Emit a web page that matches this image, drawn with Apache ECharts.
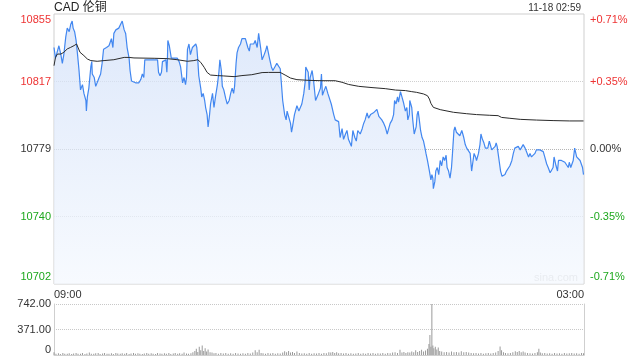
<!DOCTYPE html>
<html><head><meta charset="utf-8">
<script src="https://cdn.jsdelivr.net/npm/echarts@6/dist/echarts.min.js"></script>
<style>html,body{margin:0;padding:0;background:#fff}#c{width:640px;height:360px}</style>
</head><body><div id="c"></div>
<script>
const titleText = 'CAD 伦铜';
const dateText = '11-18 02:59';
const watermark = 'sina.com';
const timeLabels = ['09:00', '03:00'];
const prevClose = 10778.5;
const priceMin = 10702, priceMax = 10855;
const priceTicks = [10702, 10740.25, 10778.5, 10816.75, 10855];
const volTicks = [0, 371, 742];

// minutes since 09:00
const priceTimes = [
0,3,7,10,14,17,20,24,27,31, 34,37,39,42,45,48,51,54,58,61, 65,66,68,71,75,77,78,82,85,88,
92,95,98,101,103,107,112,117,120,122, 126,129,132,136,139,143,146,149,153,155,
158,160,166,173,177,180,183,185,190,197, 204,211,213,216,219,221,224,228,230,231,
232,235,238,239,245,251,255,258,262,265, 268,270,272,275,278,282,285,289,291,293,
295,299,301,304,307,309,312,314,317,319, 323,326,329,333,336,338,341,343,346,350,
353,357,360,363,
366,368,371,373,376,380,383,386,390,393, 395,398,400,403,407,410,414,417,419,421,
424,427,431,434,437,439,443,446,450,454, 458,461,463,466,470,473,475,478,482,484,
486,490,495,499,502,505,509,512,513,518, 520,522,526,529,533,536,539,543,545,547,
551,554,558,562,565,570,573,577,580,583, 587,590,594,597,600,604,606,609,613,616,
619,624,628,631,634,638,641,645,648,651, 655,658,662,665,668,672,675,679,682,685,
689,692,694,697,700,702,706,709,712,716, 719,721,724,
725,729,731,734,738,740,742,744,747,750, 753,756,758,761,763,765,768,770,772,773,
776,778,781,784,787,790,793,796,799,801, 804,807,810,812,815,817,820,824,827,831,
833,835,838,841,844,848,851,853,856,859, 861,865,868,870,873,876,879,882,884,887,
890,892,895,899,901,903,905,907,910,913, 916,919,922,926,929,933,936,939,943,946,
950,953,956,960,963,967,970,973,977,980, 983,987,990,994,997,1000,1004,1007,1011,1014,
1017,1019,1023,1026,1028,1031,1034,1038,1041,1045, 1048,1050,1053,1055,1058,1061,1063,1065,1068,1072,
1075,1077,1079];
const prices = [
10836,10830,10834,10837,10832,10827,10832,10842,10847,10845, 10849,10851,10847,10845,10840,10832,10823,10812,10815,10810, 10806,10800,10808,10813,10825,10828,10821,10819,10814,10815,
10819,10821,10827,10835,10834,10836,10837,10841,10836,10844, 10846,10846,10847,10847,10851,10846,10844,10836,10830,10823,
10817,10816,10816,10816,10818,10821,10819,10829,10829,10829, 10829,10829,10822,10820,10822,10828,10828,10829,10822,10828,
10840,10837,10836,10830,10830,10830,10828,10825,10816,10819, 10815,10819,10835,10838,10832,10836,10835,10838,10836,10829,
10820,10813,10808,10810,10806,10802,10798,10791,10798,10804, 10810,10802,10808,10815,10822,10829,10823,10814,10812,10807,
10804,10806,10810,10813,
10810,10814,10827,10833,10836,10838,10841,10842,10841,10842, 10836,10834,10838,10839,10838,10840,10836,10844,10844,10836,
10829,10831,10834,10837,10837,10830,10825,10823,10825,10827, 10828,10824,10817,10806,10798,10795,10800,10799,10793,10788,
10791,10798,10803,10800,10802,10804,10810,10817,10825,10822, 10812,10819,10823,10817,10806,10805,10810,10813,10821,10809,
10812,10814,10810,10809,10804,10798,10795,10796,10794,10785, 10790,10784,10787,10789,10784,10783,10780,10789,10785,10783,
10789,10787,10790,10793,10795,10799,10796,10798,10797,10799, 10800,10801,10797,10796,10795,10793,10791,10787,10790,10793,
10795,10798,10806,10804,10808,10805,10811,10808,10805,10800, 10802,10795,10798,
10806,10802,10795,10787,10791,10798,10800,10796,10789,10785, 10783,10779,10776,10772,10771,10766,10761,10764,10762,10756,
10760,10766,10768,10764,10772,10769,10774,10772,10775,10768, 10766,10762,10768,10776,10789,10791,10788,10789,10786,10789,
10787,10785,10781,10779,10779,10776,10766,10770,10776,10774, 10772,10776,10781,10787,10784,10782,10779,10780,10779,10783,
10782,10778,10779,10780,10782,10780,10776,10772,10766,10763, 10762,10764,10766,10767,10769,10772,10776,10779,10778,10780,
10778,10779,10781,10779,10779,10774,10776,10774,10775,10776, 10778,10778,10778,10778,10777,10774,10770,10768,10765,10764,
10768,10774,10769,10766,10772,10771,10772,10772,10771,10771, 10768,10771,10768,10768,10772,10779,10780,10774,10774,10772,
10771,10768,10764];

const avgTimes = [0,3,7,14,20,27,34,41,46,49, 53,61,68,75,88,102,122,143,153,163,
204,231,251,272,285,293,299,306,312,319, 333,346,367,383,403,424,437,461,471,482,
495,519,546,573,587,600,621,648,675,696, 716,729,739,753,761,765,768,773,787,814,
841,861,888,905,912,929,950,983,1017,1051, 1079];
const avgPrices = [10825.7,10830.4,10832.3,10832.3,10833.3,10835.2,10836.1,10837.1,10838,10837.1,
10833.3,10831.4,10829.5,10828.6,10828.2,10828.6,10829.1,10830.4,10830.4,10830.1,
10829.9,10829.7,10829.1,10828.2,10828.6,10829.1,10827.6,10824.8,10821.9,10820.4,
10820.1,10819.9,10819.5,10820.1,10820.6,10821.8,10821.9,10821.9,10820.4,10818.7,
10817.8,10817.4,10817.2,10817.2,10816.3,10815.1,10814,10813.3,10812.7,10811.9,
10811.6,10811,10810.6,10809.7,10808.7,10806.8,10804.4,10802.1,10800.8,10799.3,
10798.5,10798,10797.6,10797.4,10796.4,10795.9,10795.3,10794.9,10794.6,10794.4,
10794.4];

const volTimes = [0,4,9,13,18,22,27,31,36,40,45,49,54,58,63,67,72,76,81,85,90,94,99,103,108,112,117,121,126,130,
135,139,144,148,153,157,162,166,171,175,180,184,189,193,198,202,207,211,216,220,225,229,234,238,243,247,252,256,261,265,
270,274,279,283,287,290,293,296,299,302,305,308,311,314,318,322,326,330,335,340,345,350,355,360,365,370,375,380,385,390,
395,400,405,410,414,418,422,426,431,436,441,446,451,456,461,466,470,474,478,482,486,490,495,500,505,510,515,520,525,530,
535,540,545,550,555,560,564,568,572,576,580,585,590,595,600,605,610,615,620,625,630,635,640,645,650,655,660,665,670,675,
680,685,690,695,700,705,709,713,717,721,725,729,733,737,741,745,749,753,757,761,764,766,768,770,772,774,777,780,783,786,
790,795,800,805,810,815,820,825,830,835,840,845,850,855,860,865,870,875,880,885,890,895,900,905,909,912,916,920,925,930,
935,940,944,948,952,956,960,965,970,975,980,985,988,991,995,1000,1005,1010,1015,1020,1025,1030,1035,1040,1045,1050,1055,1060,1065,1070,
1075,1079];
const volValues = [40,20,25,15,30,20,18,25,15,22,30,18,20,28,15,22,35,20,18,25,30,15,22,28,18,20,25,15,30,22,
18,25,20,28,15,22,30,18,25,20,15,22,28,18,25,20,15,30,22,18,25,20,28,15,22,30,18,25,20,35,
22,18,25,40,60,90,45,120,70,140,60,100,50,80,40,35,25,30,20,28,22,30,18,25,20,30,22,18,25,20,
30,22,35,70,40,75,30,25,20,28,22,30,18,25,22,35,55,40,60,35,45,30,50,28,22,25,20,30,18,25,
22,28,20,30,25,40,35,45,30,40,25,30,22,28,20,25,18,22,30,20,25,18,28,22,30,20,25,22,28,20,
30,25,35,40,30,75,35,45,30,40,35,50,40,70,45,60,75,50,65,90,160,290,120,742,140,100,120,80,110,60,
50,40,45,35,50,40,45,35,55,40,45,35,30,25,30,22,28,20,25,30,22,28,35,60,125,70,40,30,25,30,
40,55,45,60,40,50,35,28,25,22,30,40,90,35,25,28,22,25,20,28,22,25,20,28,22,25,30,22,25,20,
28,25];

const RED = '#ee3333', GREEN = '#1ea81e', DARK = '#333';
function side(v){ return v > prevClose + 0.01 ? 'r' : (v < prevClose - 0.01 ? 'g' : 'k'); }
function pos(v){ return v === priceMax ? 'T' : (v === priceMin ? 'B' : ''); }
const richBase = {
  r:{color:RED,fontSize:11}, g:{color:GREEN,fontSize:11}, k:{color:DARK,fontSize:11},
  rT:{color:RED,fontSize:11,padding:[12,0,0,0]}, gB:{color:GREEN,fontSize:11,padding:[0,0,14,0]}
};

const chart = echarts.init(document.getElementById('c'), null, {renderer:'canvas'});
chart.setOption({
  animation:false,
  backgroundColor:'#fff',
  textStyle:{fontFamily:'Liberation Sans, Arial, sans-serif'},
  title:[
    {text:titleText,left:54,top:2,padding:0,textStyle:{fontSize:12,fontWeight:'normal',color:'#222',fontFamily:'Liberation Sans, Noto Sans CJK SC, sans-serif'}},
    {text:dateText,right:59,top:3,padding:0,textStyle:{fontSize:10,fontWeight:'normal',color:'#333',fontFamily:'Liberation Sans, Arial, sans-serif'}}
  ],
  graphic:[
    {type:'text',right:62,top:272,style:{text:watermark,fill:'#d0d0d0',fontSize:11,fontFamily:'Liberation Sans, Arial, sans-serif'},z:0}
  ],
  grid:[
    {left:54,top:14,width:530,height:270,show:true,borderColor:'#cfcfcf',borderWidth:1,backgroundColor:'transparent'},
    {left:54,top:304,width:530,height:51,show:false}
  ],
  xAxis:[
    {type:'value',gridIndex:0,min:0,max:1080,
     axisLine:{show:false},axisTick:{show:false},splitLine:{show:false},
     axisLabel:{customValues:[0,1080],margin:5,fontSize:11,color:'#333',
       alignMinLabel:'left',alignMaxLabel:'right',
       formatter:function(v){return v===0?timeLabels[0]:timeLabels[1];}}},
    {type:'value',gridIndex:1,min:0,max:1080,
     axisLine:{show:true,onZero:false,lineStyle:{color:'#cfcfcf'}},axisTick:{show:false},axisLabel:{show:false},splitLine:{show:false}}
  ],
  yAxis:[
    {type:'value',gridIndex:0,min:priceMin,max:priceMax,position:'left',
     axisLine:{show:false},
     axisTick:{show:false,customValues:[priceTicks[1],priceTicks[2],priceTicks[3]]},
     splitLine:{show:true,lineStyle:{color:['#d0d0d0','#b5b5b5','#d0d0d0'],type:'dotted',width:1}},
     axisLabel:{customValues:priceTicks,margin:3,
       formatter:function(v){return '{'+side(v)+pos(v)+'|'+Math.round(v)+'}';},rich:richBase}},
    {type:'value',gridIndex:0,min:priceMin,max:priceMax,position:'right',
     axisLine:{show:false},axisTick:{show:false},splitLine:{show:false},
     axisLabel:{customValues:priceTicks,margin:6,
       formatter:function(v){var p=(v-prevClose)/prevClose*100;var s=(p>0.001?'+':'')+p.toFixed(2)+'%';if(Math.abs(p)<0.001)s='0.00%';return '{'+side(v)+pos(v)+'|'+s+'}';},rich:richBase}},
    {type:'value',gridIndex:1,min:0,max:742,position:'left',
     axisLine:{show:true,lineStyle:{color:'#cfcfcf'}},
     axisTick:{show:false,customValues:[371,742]},
     splitLine:{show:true,lineStyle:{color:'#c8c8c8',type:'dotted'}},
     axisLabel:{customValues:volTicks,margin:3,fontSize:11,color:'#333',
       formatter:function(v){return v===0?'{z|0}':'{n|'+v.toFixed(2)+'}';},
       rich:{z:{fontSize:11,color:'#333',padding:[0,0,10,0]},n:{fontSize:11,color:'#333'}}}},
    {type:'value',gridIndex:1,min:0,max:742,position:'right',
     axisLine:{show:true,lineStyle:{color:'#cfcfcf'}},axisTick:{show:false},axisLabel:{show:false},splitLine:{show:false}}
  ],
  series:[
    {type:'line',xAxisIndex:0,yAxisIndex:0,showSymbol:false,silent:true,
     data:priceTimes.map(function(t,i){return [t,prices[i]];}),
     lineStyle:{color:'#4287f0',width:1.2},
     areaStyle:{color:new echarts.graphic.LinearGradient(0,0,0,1,[{offset:0,color:'#d0dff9'},{offset:1,color:'#f4f8fe'}])},
     z:3},
    {type:'line',xAxisIndex:0,yAxisIndex:0,showSymbol:false,silent:true,
     data:avgTimes.map(function(t,i){return [t,avgPrices[i]];}),
     lineStyle:{color:'#2a2a2a',width:1},z:4},
    {type:'bar',xAxisIndex:1,yAxisIndex:2,barWidth:1,silent:true,
     data:volTimes.map(function(t,i){return [t,volValues[i]];}),
     itemStyle:{color:'#9a9a9a'}}
  ]
});
</script></body></html>
